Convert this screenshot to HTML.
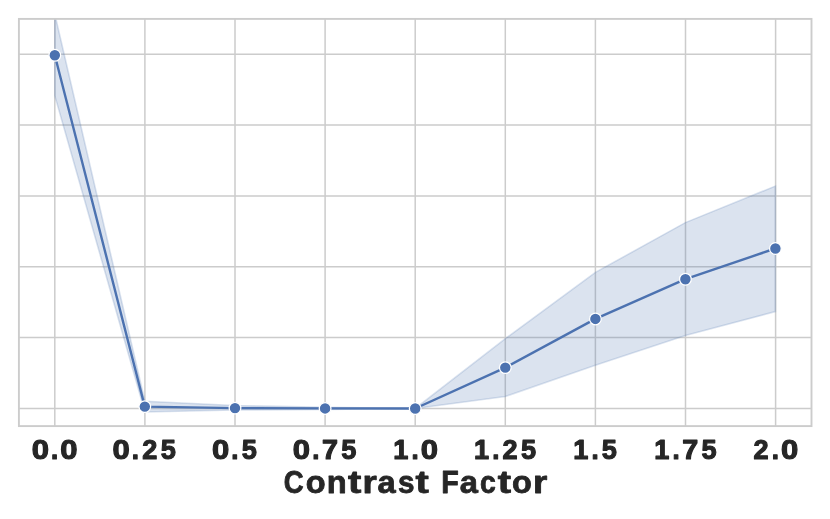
<!DOCTYPE html>
<html>
<head>
<meta charset="utf-8">
<title>Contrast Factor</title>
<style>
html,body{margin:0;padding:0;background:#ffffff;}
body{width:830px;height:519px;overflow:hidden;font-family:"Liberation Sans",sans-serif;}
svg{display:block;}
text{font-family:"Liberation Sans",sans-serif;font-weight:bold;fill:#262626;}
</style>
</head>
<body>
<svg width="830" height="519" viewBox="0 0 830 519">
  <rect x="0" y="0" width="830" height="519" fill="#ffffff"/>
  <defs>
    <filter id="gray" filterUnits="userSpaceOnUse" x="0" y="430" width="830" height="89" color-interpolation-filters="sRGB"><feColorMatrix type="saturate" values="0"/></filter>
    <clipPath id="ax"><rect x="18.9" y="18.9" width="792.8" height="407"/></clipPath>
  </defs>
  <!-- grid -->
  <g stroke="#cccccc" stroke-width="1.5" fill="none">
    <path d="M54.8 18.9V425.9M144.9 18.9V425.9M235 18.9V425.9M325.1 18.9V425.9M415.2 18.9V425.9M505.3 18.9V425.9M595.4 18.9V425.9M685.5 18.9V425.9M775.6 18.9V425.9"/>
    <path d="M18.9 54.3H811.7M18.9 125.1H811.7M18.9 195.9H811.7M18.9 266.7H811.7M18.9 337.5H811.7M18.9 408.5H811.7"/>
  </g>
  <!-- band -->
  <g clip-path="url(#ax)">
    <path d="M54.8 14 L144.9 401.3 L235 405.5 L325.1 407.3 L415.2 408.5 L505.3 338.7 L595.4 272.4 L685.4 222.6 L775.4 186.1 L775.4 311.6 L685.4 335.5 L595.4 365.2 L505.3 396.5 L415.2 408.5 L325.1 409.5 L235 410 L144.9 412 L54.8 95.7 Z"
          fill="#4c72b0" fill-opacity="0.2" stroke="#4c72b0" stroke-opacity="0.2" stroke-width="1.6" stroke-linejoin="miter"/>
    <!-- line -->
    <polyline points="54.8,55.3 144.8,406.6 235,408.1 325.1,408.4 415.2,408.5 505.3,367.6 595.4,318.9 685.4,279.2 775.4,248.5"
          fill="none" stroke="#4c72b0" stroke-width="2.4" stroke-linejoin="round" stroke-linecap="round"/>
    <g fill="#4c72b0" stroke="#ffffff" stroke-width="1.25">
      <circle cx="54.8" cy="55.3" r="5.85"/>
      <circle cx="144.8" cy="406.6" r="5.85"/>
      <circle cx="235" cy="408.1" r="5.85"/>
      <circle cx="325.1" cy="408.4" r="5.85"/>
      <circle cx="415.2" cy="408.5" r="5.85"/>
      <circle cx="505.3" cy="367.6" r="5.85"/>
      <circle cx="595.4" cy="318.9" r="5.85"/>
      <circle cx="685.4" cy="279.2" r="5.85"/>
      <circle cx="775.4" cy="248.5" r="5.85"/>
    </g>
  </g>
  <!-- spines -->
  <rect x="18.9" y="18.9" width="792.6" height="407.2" fill="none" stroke="#cccccc" stroke-width="1.9"/>
  <!--TEXT-->
  <g filter="url(#gray)">
  <g font-size="27.20" stroke="#262626" stroke-width="1.10" stroke-linejoin="round">
    <text y="459.15"><tspan x="31.70" textLength="17.25" lengthAdjust="spacingAndGlyphs">0</tspan><tspan x="51.08" textLength="7.17" lengthAdjust="spacingAndGlyphs">.</tspan><tspan x="60.39" textLength="17.25" lengthAdjust="spacingAndGlyphs">0</tspan></text>
    <text y="459.15"><tspan x="112.43" textLength="17.25" lengthAdjust="spacingAndGlyphs">0</tspan><tspan x="131.80" textLength="7.17" lengthAdjust="spacingAndGlyphs">.</tspan><tspan x="142.16" textLength="15.06" lengthAdjust="spacingAndGlyphs">2</tspan><tspan x="160.76" textLength="15.13" lengthAdjust="spacingAndGlyphs">5</tspan></text>
    <text y="459.15"><tspan x="211.95" textLength="17.25" lengthAdjust="spacingAndGlyphs">0</tspan><tspan x="231.33" textLength="7.17" lengthAdjust="spacingAndGlyphs">.</tspan><tspan x="241.74" textLength="15.13" lengthAdjust="spacingAndGlyphs">5</tspan></text>
    <text y="459.15"><tspan x="292.83" textLength="17.25" lengthAdjust="spacingAndGlyphs">0</tspan><tspan x="312.20" textLength="7.17" lengthAdjust="spacingAndGlyphs">.</tspan><tspan x="321.97" textLength="15.99" lengthAdjust="spacingAndGlyphs">7</tspan><tspan x="341.16" textLength="15.13" lengthAdjust="spacingAndGlyphs">5</tspan></text>
    <text y="459.15"><tspan x="393.33" textLength="15.08" lengthAdjust="spacingAndGlyphs">1</tspan><tspan x="411.53" textLength="7.17" lengthAdjust="spacingAndGlyphs">.</tspan><tspan x="420.84" textLength="17.25" lengthAdjust="spacingAndGlyphs">0</tspan></text>
    <text y="459.15"><tspan x="473.95" textLength="15.08" lengthAdjust="spacingAndGlyphs">1</tspan><tspan x="492.15" textLength="7.17" lengthAdjust="spacingAndGlyphs">.</tspan><tspan x="502.51" textLength="15.06" lengthAdjust="spacingAndGlyphs">2</tspan><tspan x="521.11" textLength="15.13" lengthAdjust="spacingAndGlyphs">5</tspan></text>
    <text y="459.15"><tspan x="573.23" textLength="15.08" lengthAdjust="spacingAndGlyphs">1</tspan><tspan x="591.43" textLength="7.17" lengthAdjust="spacingAndGlyphs">.</tspan><tspan x="601.84" textLength="15.13" lengthAdjust="spacingAndGlyphs">5</tspan></text>
    <text y="459.15"><tspan x="654.25" textLength="15.08" lengthAdjust="spacingAndGlyphs">1</tspan><tspan x="672.45" textLength="7.17" lengthAdjust="spacingAndGlyphs">.</tspan><tspan x="682.22" textLength="15.99" lengthAdjust="spacingAndGlyphs">7</tspan><tspan x="701.41" textLength="15.13" lengthAdjust="spacingAndGlyphs">5</tspan></text>
    <text y="459.15"><tspan x="753.50" textLength="15.06" lengthAdjust="spacingAndGlyphs">2</tspan><tspan x="771.83" textLength="7.17" lengthAdjust="spacingAndGlyphs">.</tspan><tspan x="781.14" textLength="17.25" lengthAdjust="spacingAndGlyphs">0</tspan></text>
  </g>
  <g font-size="31.30" stroke="#262626" stroke-width="0.80" stroke-linejoin="round">
    <text y="493.10"><tspan x="283.79" textLength="19.91" lengthAdjust="spacingAndGlyphs">C</tspan><tspan x="305.67" textLength="19.86" lengthAdjust="spacingAndGlyphs">o</tspan><tspan x="326.78" textLength="19.95" lengthAdjust="spacingAndGlyphs">n</tspan><tspan x="347.90" textLength="13.30" lengthAdjust="spacingAndGlyphs">t</tspan><tspan x="362.50" textLength="14.31" lengthAdjust="spacingAndGlyphs">r</tspan><tspan x="377.57" textLength="18.17" lengthAdjust="spacingAndGlyphs">a</tspan><tspan x="398.09" textLength="16.48" lengthAdjust="spacingAndGlyphs">s</tspan><tspan x="415.58" textLength="13.30" lengthAdjust="spacingAndGlyphs">t</tspan></text>
    <text y="493.10"><tspan x="441.33" textLength="17.56" lengthAdjust="spacingAndGlyphs">F</tspan><tspan x="459.73" textLength="18.17" lengthAdjust="spacingAndGlyphs">a</tspan><tspan x="479.90" textLength="15.80" lengthAdjust="spacingAndGlyphs">c</tspan><tspan x="497.68" textLength="13.30" lengthAdjust="spacingAndGlyphs">t</tspan><tspan x="512.13" textLength="19.86" lengthAdjust="spacingAndGlyphs">o</tspan><tspan x="533.02" textLength="14.31" lengthAdjust="spacingAndGlyphs">r</tspan></text>
  </g>
  </g>
  <!--/TEXT-->
</svg>
</body>
</html>
